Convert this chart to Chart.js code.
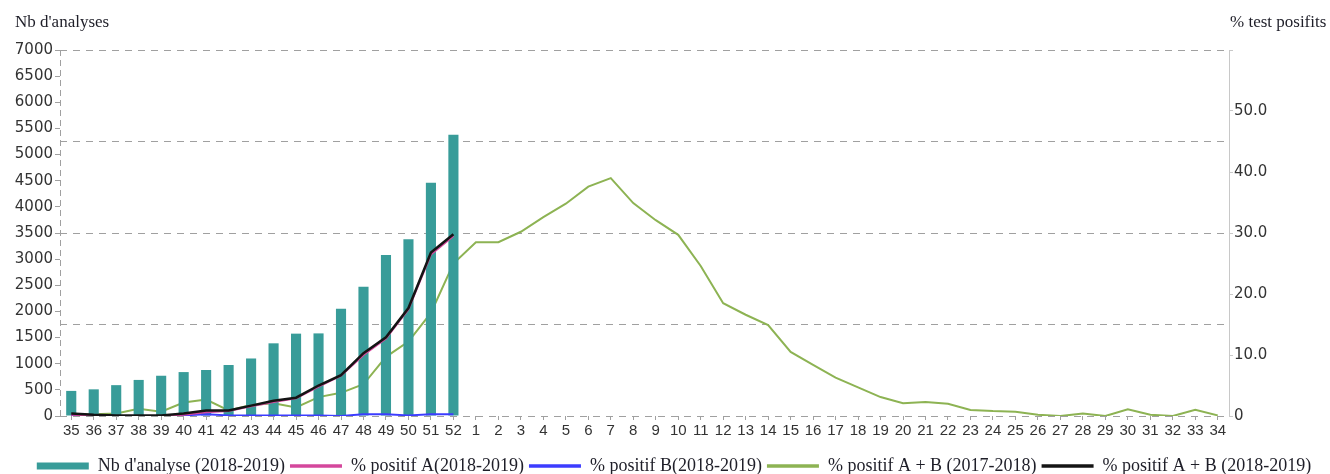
<!DOCTYPE html>
<html>
<head>
<meta charset="utf-8">
<script src="https://cdn.jsdelivr.net/npm/chart.js@4/dist/chart.umd.min.js"></script>
<style>
  html, body { margin: 0; padding: 0; background: #fff; }
  #wrap { width: 1330px; height: 474px; }
</style>
</head>
<body>
<div id="wrap"><canvas id="graph"></canvas></div>
<script>
// weeks 35..52 of 2018, then 1..34 of 2019
const weeks = ['35', '36', '37', '38', '39', '40', '41', '42', '43', '44', '45', '46', '47', '48', '49', '50', '51', '52',
  '1', '2', '3', '4', '5', '6', '7', '8', '9', '10', '11', '12', '13', '14', '15', '16', '17', '18', '19', '20',
  '21', '22', '23', '24', '25', '26', '27', '28', '29', '30', '31', '32', '33', '34'];

const nbAnalyses = [480, 510, 590, 690, 770, 840, 880, 975, 1100, 1390, 1575, 1580, 2050, 2470, 3080, 3380, 4460, 5380];
const positifA = [0.2, 0.1, 0, 0, 0, 0.2, 0.6, 0.8, 1.6, 2.3, 2.9, 4.8, 6.6, 10.0, 12.7, 17.5, 26.5, 29.5];
const positifB = [0.1, 0, 0, 0, 0, 0.1, 0.3, 0.1, 0.1, 0.1, 0.1, 0.1, 0, 0.3, 0.3, 0.1, 0.3, 0.3];
const positifAB1819 = [0.4, 0.2, 0.1, 0.1, 0.1, 0.4, 0.9, 0.9, 1.7, 2.5, 3.0, 5.0, 6.7, 10.3, 12.9, 17.7, 26.8, 29.8];
const positifAB1718 = [0.1, 0.3, 0.4, 1.2, 0.7, 2.2, 2.7, 0.9, 1.8, 2.1, 1.4, 3.1, 3.8, 5.2, 9.7, 12.2, 16.9, 25.0,
  28.5, 28.5, 30.2, 32.6, 34.8, 37.6, 39.0, 34.9, 32.1, 29.7, 24.6, 18.5, 16.6, 14.9, 10.5, 8.4, 6.3, 4.7, 3.1,
  2.1, 2.3, 2.0, 1.0, 0.8, 0.7, 0.2, 0, 0.4, 0, 1.1, 0.2, 0, 1.0, 0.1];

const leftTitle = "Nb d'analyses";
const rightTitle = '% test posifits';

const gridGray = '#a0a0a0';

// titles sit horizontally above each y axis
const axisTitles = {
  id: 'axisTitles',
  afterLayout(chart) {
    // legend row sits a little right of centre in the original
    chart.legend.left += 9;
    chart.legend.right += 9;
  },
  afterDraw(chart) {
    const ctx = chart.ctx;
    ctx.save();
    ctx.font = '17px "Liberation Serif"';
    ctx.fillStyle = '#1e1e28';
    ctx.textAlign = 'left';
    ctx.textBaseline = 'alphabetic';
    ctx.fillText(leftTitle, 15, 27);
    ctx.fillText(rightTitle, 1230, 27);
    ctx.restore();
  }
};

const config = {
  data: {
    labels: weeks,
    datasets: [
      {
        type: 'bar',
        label: "Nb d'analyse (2018-2019)",
        data: nbAnalyses,
        backgroundColor: '#389c99',
        borderColor: '#389c99',
        borderWidth: 0,
        categoryPercentage: 1,
        barPercentage: 0.45,
        yAxisID: 'y',
        order: 4
      }, {
        type: 'line',
        label: '% positif A(2018-2019)',
        data: positifA,
        borderColor: '#d4479c',
        backgroundColor: '#d4479c',
        borderWidth: 2,
        pointRadius: 0,
        tension: 0,
        yAxisID: 'y1',
        order: 2
      }, {
        type: 'line',
        label: '% positif B(2018-2019)',
        data: positifB,
        borderColor: '#3c3cff',
        backgroundColor: '#3c3cff',
        borderWidth: 2,
        pointRadius: 0,
        tension: 0,
        yAxisID: 'y1',
        order: 3
      }, {
        type: 'line',
        label: '% positif A + B (2017-2018)',
        data: positifAB1718,
        borderColor: '#8db353',
        backgroundColor: '#8db353',
        borderWidth: 2,
        pointRadius: 0,
        tension: 0,
        yAxisID: 'y1',
        order: 5
      }, {
        type: 'line',
        label: '% positif A + B (2018-2019)',
        data: positifAB1819,
        borderColor: '#141414',
        backgroundColor: '#141414',
        borderWidth: 2.5,
        pointRadius: 0,
        tension: 0,
        yAxisID: 'y1',
        order: 1
      }
    ]
  },
  options: {
    responsive: true,
    maintainAspectRatio: false,
    animation: false,
    layout: { padding: { top: 50, bottom: -11, left: 0, right: 0 } },
    plugins: {
      tooltip: { enabled: false },
      legend: {
        position: 'bottom',
        labels: {
          usePointStyle: true,
          pointStyleWidth: 52,
          boxHeight: 7,
          padding: 5,
          color: '#1e1e28',
          font: { family: '"Liberation Serif"', size: 18 },
          generateLabels: chart => chart.data.datasets.map((ds, i) => ({
            text: ds.label,
            fillStyle: ds.backgroundColor,
            strokeStyle: ds.borderColor,
            lineWidth: ds.type === 'bar' ? 0 : 3.5,
            pointStyle: ds.type === 'bar' ? 'rect' : 'line',
            hidden: !chart.isDatasetVisible(i),
            fontColor: '#1e1e28',
            datasetIndex: i
          }))
        }
      }
    },
    scales: {
      x: {
        type: 'category',
        offset: true,
        afterFit: s => { s.height = 36; },
        grid: { offset: false, drawOnChartArea: false, drawTicks: true, tickLength: 4, color: gridGray },
        border: { display: false },
        ticks: {
          autoSkip: false,
          maxRotation: 0,
          padding: 2,
          color: '#333',
          font: { family: '"Liberation Sans"', size: 15 }
        }
      },
      // dashed left edge
      xg: {
        type: 'linear',
        position: 'bottom',
        min: 0,
        max: 1,
        afterBuildTicks: s => { s.ticks = [{ value: 0 }]; },
        afterFit: s => { s.height = 0; },
        ticks: { display: false },
        grid: { drawTicks: false, color: gridGray },
        border: { display: false, dash: [6, 4] }
      },
      y: {
        type: 'linear',
        position: 'left',
        min: 0,
        max: 7000,
        afterFit: s => { s.width = 60; },
        ticks: {
          stepSize: 500,
          padding: 2,
          color: '#333',
          font: { family: '"DejaVu Sans"', size: 15 },
          callback: v => String(v)
        },
        grid: { drawOnChartArea: false, drawTicks: true, tickLength: 5, color: gridGray },
        border: { display: false }
      },
      y1: {
        type: 'linear',
        position: 'right',
        min: 0,
        max: 60,
        afterFit: s => { s.width = 101; },
        ticks: {
          stepSize: 10,
          padding: 1,
          color: '#333',
          font: { family: '"DejaVu Sans"', size: 15 },
          callback: v => (v === 60 ? '' : (v === 0 ? '0' : v.toFixed(1)))
        },
        grid: { drawOnChartArea: false, drawTicks: true, tickLength: 4, color: '#c8c8c8' },
        border: { display: true, color: '#c8c8c8', width: 1 }
      },
      // dashed horizontal guides every 15 %
      yg: {
        type: 'linear',
        position: 'right',
        min: 0,
        max: 60,
        afterFit: s => { s.width = 0; },
        ticks: { display: false, stepSize: 15 },
        grid: { drawTicks: false, color: gridGray },
        border: { display: false, dash: [7, 6] }
      }
    }
  },
  plugins: [axisTitles]
};

new Chart(document.getElementById('graph').getContext('2d'), config);
</script>
</body>
</html>
